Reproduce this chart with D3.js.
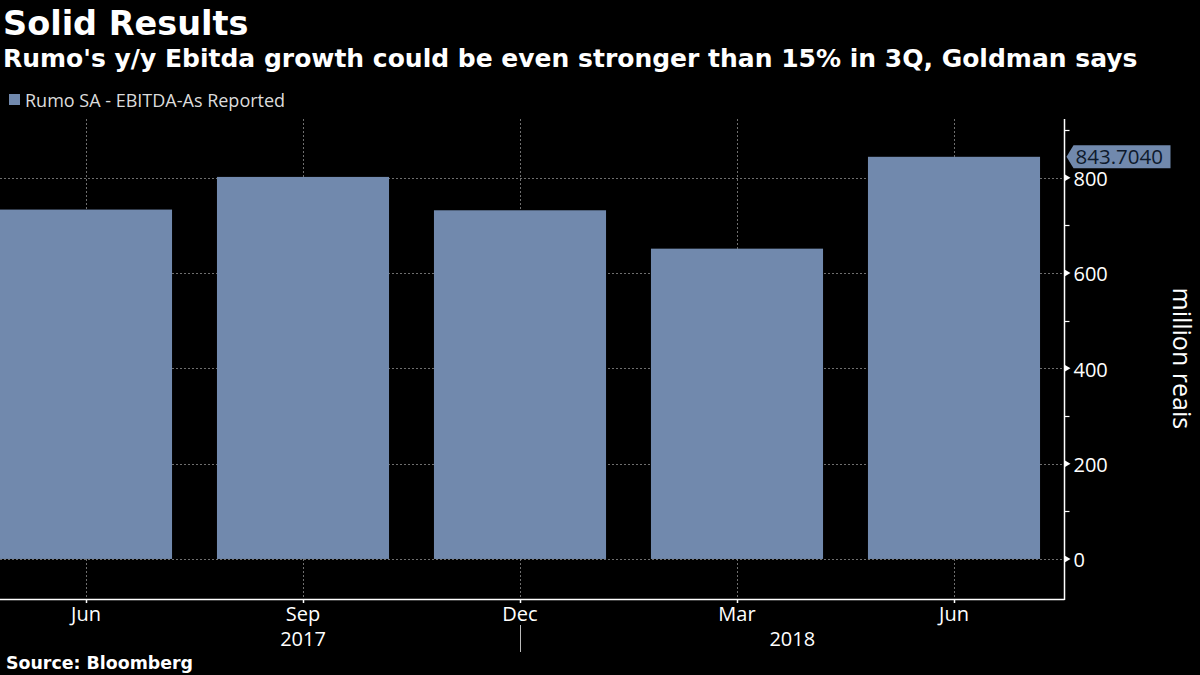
<!DOCTYPE html>
<html>
<head>
<meta charset="utf-8">
<script src="https://cdn.jsdelivr.net/npm/d3@7"></script>
<style>
  html, body { margin: 0; padding: 0; background: #000; }
  svg { display: block; }
</style>
</head>
<body>
<svg id="chart" width="1200" height="675"></svg>
<script>
// ---- data ----
const categories = ["Jun 2017", "Sep 2017", "Dec 2017", "Mar 2018", "Jun 2018"];
const monthLabels = ["Jun", "Sep", "Dec", "Mar", "Jun"];
const values = [733, 801.5, 731.5, 651, 843.704];
const yearLabels = ["2017", "2018"];
const yTicks = [0, 200, 400, 600, 800];
const yMinorTicks = [100, 300, 500, 700, 900];
const lastValueLabel = "843.7040";
const seriesName = "Rumo SA - EBITDA-As Reported";
const titleText = "Solid Results";
const subtitleText = "Rumo's y/y Ebitda growth could be even stronger than 15% in 3Q, Goldman says";
const sourceText = "Source: Bloomberg";
const unitText = "million reais";

// ---- layout ----
const W = 1200, H = 675;
const plotTop = 119, plotBottom = 599, axisX = 1064.5;
const barColor = "#7189ad";
const gridColor = "#8a8a8a";
const axisFont = "'Open Sans', 'DejaVu Sans', sans-serif";
const titleFont = "'DejaVu Sans', sans-serif";

const svg = d3.select("#chart");
svg.append("rect").attr("width", W).attr("height", H).attr("fill", "#000");

const x = d3.scaleBand()
  .domain(categories)
  .range([-22.5, 1062.5])
  .paddingInner(0.207)
  .paddingOuter(0.1035);

const y = d3.scaleLinear()
  .domain([-84, 923])
  .range([plotBottom, plotTop]);

const cx = c => x(c) + x.bandwidth() / 2;

svg.append("defs").append("clipPath").attr("id", "plotClip")
  .append("rect").attr("x", 0).attr("y", plotTop).attr("width", axisX).attr("height", plotBottom - plotTop);

const plot = svg.append("g").attr("clip-path", "url(#plotClip)");

// horizontal gridlines
plot.selectAll("line.hgrid").data(yTicks).join("line")
  .attr("class", "hgrid")
  .attr("x1", 0).attr("x2", axisX)
  .attr("y1", d => Math.round(y(d)) + 0.5).attr("y2", d => Math.round(y(d)) + 0.5)
  .attr("stroke", gridColor).attr("stroke-width", 1)
  .attr("stroke-dasharray", "2,2").attr("opacity", 0.8);

// vertical gridlines
plot.selectAll("line.vgrid").data(categories).join("line")
  .attr("class", "vgrid")
  .attr("x1", d => Math.round(cx(d)) + 0.5).attr("x2", d => Math.round(cx(d)) + 0.5)
  .attr("y1", plotTop).attr("y2", plotBottom)
  .attr("stroke", gridColor).attr("stroke-width", 1)
  .attr("stroke-dasharray", "2,2").attr("opacity", 0.8);

// bars
plot.selectAll("rect.bar").data(values).join("rect")
  .attr("class", "bar")
  .attr("x", (d, i) => x(categories[i]))
  .attr("width", x.bandwidth())
  .attr("y", d => y(d))
  .attr("height", d => y(0) - y(d))
  .attr("fill", barColor);

// x axis line
svg.append("line")
  .attr("x1", 0).attr("x2", axisX)
  .attr("y1", plotBottom + 0.5).attr("y2", plotBottom + 0.5)
  .attr("stroke", "#fff").attr("stroke-width", 1.5);

// x ticks
svg.selectAll("line.xtick").data(categories).join("line")
  .attr("class", "xtick")
  .attr("x1", d => Math.round(cx(d)) + 0.5).attr("x2", d => Math.round(cx(d)) + 0.5)
  .attr("y1", plotBottom).attr("y2", plotBottom + 4)
  .attr("stroke", "#fff").attr("stroke-width", 1.5);

// month labels
svg.selectAll("text.month").data(categories).join("text")
  .attr("class", "month")
  .attr("x", d => cx(d)).attr("y", 621)
  .attr("text-anchor", "middle")
  .attr("font-family", axisFont).attr("font-size", 20)
  .attr("fill", "#fff")
  .text((d, i) => monthLabels[i]);

// year labels
const yearPos = [cx(categories[1]), (cx(categories[2]) + axisX) / 2];
svg.selectAll("text.year").data(yearLabels).join("text")
  .attr("class", "year")
  .attr("x", (d, i) => yearPos[i]).attr("y", 646)
  .attr("text-anchor", "middle")
  .attr("font-family", axisFont).attr("font-size", 20)
  .attr("fill", "#fff")
  .text(d => d);

// year separator
svg.append("line")
  .attr("x1", Math.round(cx(categories[2])) + 0.5).attr("x2", Math.round(cx(categories[2])) + 0.5)
  .attr("y1", 625).attr("y2", 652)
  .attr("stroke", "#bbb").attr("stroke-width", 1);

// y axis line
svg.append("line")
  .attr("x1", axisX).attr("x2", axisX)
  .attr("y1", plotTop).attr("y2", plotBottom + 1)
  .attr("stroke", "#fff").attr("stroke-width", 1.5);

// minor ticks
svg.selectAll("line.minor").data(yMinorTicks).join("line")
  .attr("class", "minor")
  .attr("x1", axisX).attr("x2", axisX + 5)
  .attr("y1", d => Math.round(y(d)) + 0.5).attr("y2", d => Math.round(y(d)) + 0.5)
  .attr("stroke", "#fff").attr("stroke-width", 1.2);

// major tick triangles
svg.selectAll("path.major").data(yTicks).join("path")
  .attr("class", "major")
  .attr("d", d => {
    const yy = y(d);
    return `M${axisX},${yy - 3.5}L${axisX + 6},${yy}L${axisX},${yy + 3.5}Z`;
  })
  .attr("fill", "#fff");

// y tick labels
svg.selectAll("text.ytick").data(yTicks).join("text")
  .attr("class", "ytick")
  .attr("x", axisX + 9).attr("y", d => y(d) + 1)
  .attr("dominant-baseline", "central")
  .attr("font-family", axisFont).attr("font-size", 20)
  .attr("fill", "#fff")
  .text(d => d3.format("d")(d));

// last value label box
const lastY = y(values[values.length - 1]);
svg.append("path")
  .attr("d", `M${axisX + 2},${lastY}L${axisX + 9},${lastY - 11.5}L${axisX + 106},${lastY - 11.5}L${axisX + 106},${lastY + 11.5}L${axisX + 9},${lastY + 11.5}Z`)
  .attr("fill", barColor);
svg.append("text")
  .attr("x", axisX + 11).attr("y", lastY + 7.5)
  .attr("font-family", axisFont).attr("font-size", 20.5)
  .attr("fill", "#0e1a2c")
  .text(lastValueLabel);

// unit label
svg.append("text")
  .attr("transform", `translate(1173, ${(y(0) + y(800)) / 2 - 10}) rotate(90)`)
  .attr("text-anchor", "middle")
  .attr("font-family", axisFont).attr("font-size", 25)
  .attr("fill", "#fff")
  .text(unitText);

// title / subtitle
svg.append("text")
  .attr("x", 3).attr("y", 35)
  .attr("font-family", titleFont).attr("font-weight", "bold").attr("font-size", 33.5)
  .attr("fill", "#fff")
  .text(titleText);
svg.append("text")
  .attr("x", 3).attr("y", 67)
  .attr("font-family", titleFont).attr("font-weight", "bold").attr("font-size", 25)
  .attr("fill", "#fff")
  .text(subtitleText);

// legend
svg.append("rect")
  .attr("x", 9).attr("y", 94).attr("width", 11).attr("height", 11)
  .attr("fill", barColor);
svg.append("text")
  .attr("x", 25).attr("y", 107)
  .attr("font-family", axisFont).attr("font-size", 18)
  .attr("fill", "#dcdcdc")
  .text(seriesName);

// source
svg.append("text")
  .attr("x", 6).attr("y", 669)
  .attr("font-family", titleFont).attr("font-weight", "bold").attr("font-size", 17.4)
  .attr("fill", "#fff")
  .text(sourceText);
</script>
</body>
</html>
